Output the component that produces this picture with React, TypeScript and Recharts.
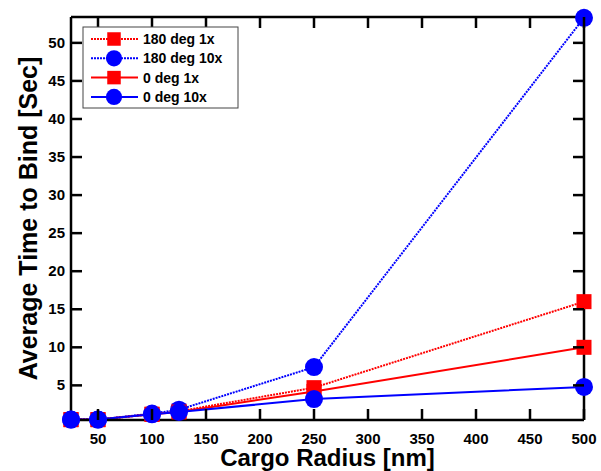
import { LineChart, Line, XAxis, YAxis, Legend } from "recharts";

const radii = [25, 50, 100, 125, 250, 500];
const deg180x1 = [0.5, 0.5, 1.2, 1.6, 4.7, 16.0];
const deg180x10 = [0.5, 0.5, 1.3, 1.8, 7.4, 53.3];
const deg0x1 = [0.5, 0.5, 1.2, 1.5, 4.2, 10.0];
const deg0x10 = [0.5, 0.5, 1.2, 1.5, 3.2, 4.8];

const xTicks = [50, 100, 150, 200, 250, 300, 350, 400, 450, 500];
const yTicks = [5, 10, 15, 20, 25, 30, 35, 40, 45, 50];

const data = radii.map((r, i) => ({
  r,
  a: deg180x1[i],
  b: deg180x10[i],
  c: deg0x1[i],
  d: deg0x10[i],
}));

const RED = "#ff0000";
const BLUE = "#0000ff";
const FONT = "'Liberation Sans', Arial, sans-serif";

// layout
const W = 601;
const H = 471;
const MARGIN = 16;
const X_AXIS_H = 51;
const Y_AXIS_W = 71;
const PLOT_W = W - Y_AXIS_W - MARGIN - 1;
const PLOT_H = H - X_AXIS_H - MARGIN - 1;
const TL = 11; // inward tick length
const XM = 10; // gap below x axis
const YM = 6; // gap left of y axis

const series = [
  { key: "a", name: "180 deg 1x", color: RED, dotted: true, shape: "square" },
  { key: "b", name: "180 deg 10x", color: BLUE, dotted: true, shape: "circle" },
  { key: "c", name: "0 deg 1x", color: RED, dotted: false, shape: "square" },
  { key: "d", name: "0 deg 10x", color: BLUE, dotted: false, shape: "circle" },
];

const titleFont = { fontFamily: FONT, fontWeight: "bold", fontSize: 24, fill: "#000" };

const Marker = (props: any) => {
  const { cx, cy, shape, color, size = 1 } = props;
  if (cx == null || cy == null) return null;
  if (shape === "square") {
    const h = 7.5 * size;
    return <rect x={cx - h} y={cy - h} width={2 * h} height={2 * h} fill={color} />;
  }
  return <circle cx={cx} cy={cy} r={9 * size} fill={color} />;
};

// x tick: label plus inward marks on bottom and top edge
const XTick = (props: any) => {
  const { x, y, payload } = props;
  const yb = y - XM;
  const yt = yb - PLOT_H;
  return (
    <g>
      <line x1={x} x2={x} y1={yb} y2={yb - TL} stroke="#000" strokeWidth={2.5} />
      <line x1={x} x2={x} y1={yt} y2={yt + TL} stroke="#000" strokeWidth={2.5} />
      <text x={x} y={y + 14} textAnchor="middle" fontFamily={FONT} fontWeight="bold" fontSize={15} fill="#000">
        {payload.value}
      </text>
    </g>
  );
};

// y tick: label plus inward marks on left and right edge
const YTick = (props: any) => {
  const { x, y, payload } = props;
  const xl = x + YM;
  const xr = xl + PLOT_W;
  return (
    <g>
      <line x1={xl} x2={xl + TL} y1={y} y2={y} stroke="#000" strokeWidth={2.5} />
      <line x1={xr} x2={xr - TL} y1={y} y2={y} stroke="#000" strokeWidth={2.5} />
      <text x={x} y={y + 5} textAnchor="end" fontFamily={FONT} fontWeight="bold" fontSize={15} fill="#000">
        {payload.value}
      </text>
    </g>
  );
};

const LegendBox = () => (
  <svg width={168} height={84}>
    <rect x={1} y={1} width={155} height={81} fill="#fff" stroke="#444" strokeWidth={1} />
    {series.map((s, i) => {
      const y = 13 + i * 19.3;
      return (
        <g key={s.key}>
          <line
            x1={9}
            x2={56}
            y1={y}
            y2={y}
            stroke={s.color}
            strokeWidth={2}
            strokeDasharray={s.dotted ? "2 1" : undefined}
          />
          <Marker cx={32} cy={y} shape={s.shape} color={s.color} size={0.9} />
          <text x={61} y={y + 5} fontFamily={FONT} fontWeight="bold" fontSize={14} fill="#000">
            {s.name}
          </text>
        </g>
      );
    })}
  </svg>
);

export default function App() {
  return (
    <div style={{ position: "absolute", left: 0, top: 0, background: "#fff" }}>
      <LineChart
        width={W}
        height={H}
        data={data}
        margin={{ top: MARGIN, right: MARGIN, bottom: 0, left: 0 }}
      >
        <XAxis
          xAxisId="main"
          dataKey="r"
          type="number"
          domain={[25, 500]}
          ticks={xTicks}
          height={X_AXIS_H}
          tickSize={0}
          tickMargin={XM}
          tickLine={false}
          stroke="#000"
          strokeWidth={2.5}
          tick={<XTick />}
          label={{
            value: "Cargo Radius [nm]",
            position: "insideBottom",
            offset: 5,
            style: titleFont,
          }}
        />
        <XAxis
          xAxisId="top"
          orientation="top"
          dataKey="r"
          type="number"
          domain={[25, 500]}
          height={1}
          tickLine={false}
          stroke="#000"
          strokeWidth={2.5}
          tick={false}
        />
        <YAxis
          yAxisId="main"
          type="number"
          domain={[0.45, 53.4]}
          ticks={yTicks}
          width={Y_AXIS_W}
          tickSize={0}
          tickMargin={YM}
          tickLine={false}
          stroke="#000"
          strokeWidth={2.5}
          tick={<YTick />}
          label={{
            value: "Average Time to Bind [Sec]",
            angle: -90,
            position: "insideLeft",
            offset: 28,
            style: { ...titleFont, fontSize: 25, textAnchor: "middle" },
          }}
        />
        <YAxis
          yAxisId="right"
          orientation="right"
          type="number"
          domain={[0.45, 53.4]}
          width={1}
          tickLine={false}
          stroke="#000"
          strokeWidth={2.5}
          tick={false}
        />
        <Legend
          layout="horizontal"
          verticalAlign="middle"
          align="center"
          content={<LegendBox />}
          wrapperStyle={{ position: "absolute", left: 82, top: 26, width: 168 }}
        />
        {series.map((s) => (
          <Line
            key={s.key}
            xAxisId="main"
            yAxisId="main"
            dataKey={s.key}
            name={s.name}
            stroke={s.color}
            strokeWidth={2}
            strokeDasharray={s.dotted ? "2 1" : undefined}
            dot={(p: any) => (
              <Marker key={`${s.key}-${p.index}`} cx={p.cx} cy={p.cy} shape={s.shape} color={s.color} />
            )}
            activeDot={false}
            isAnimationActive={false}
          />
        ))}
      </LineChart>
    </div>
  );
}
